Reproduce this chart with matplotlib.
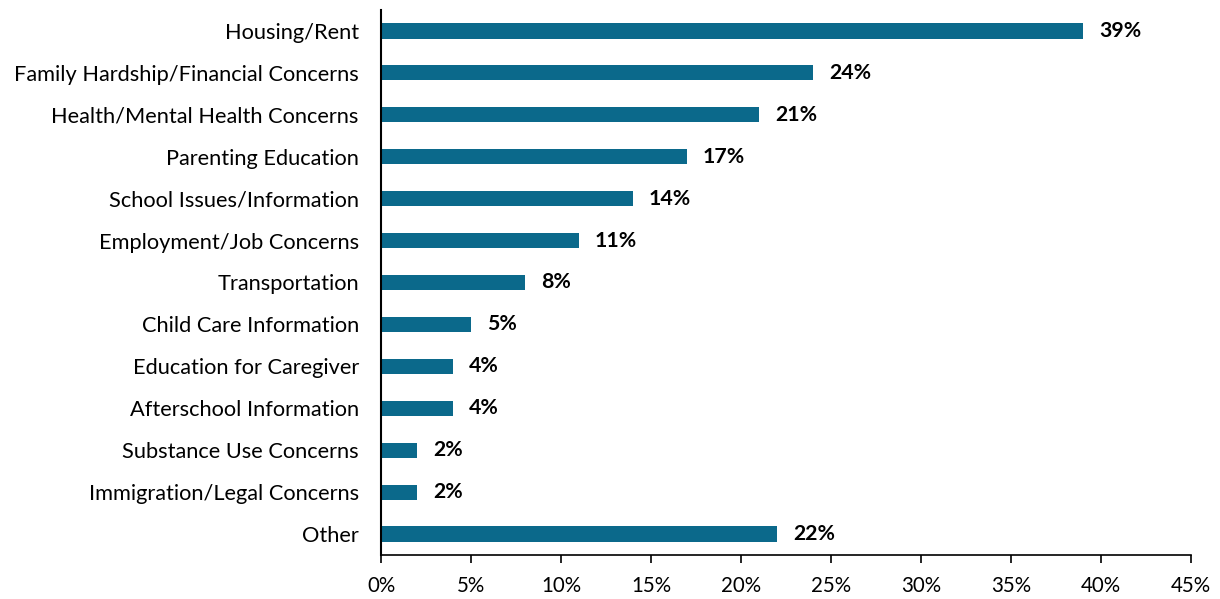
import matplotlib
matplotlib.use("Agg")
import matplotlib.pyplot as plt
from matplotlib.ticker import FuncFormatter

categories = ["Housing/Rent", "Family Hardship/Financial Concerns", "Health/Mental Health Concerns",
              "Parenting Education", "School Issues/Information", "Employment/Job Concerns",
              "Transportation", "Child Care Information", "Education for Caregiver",
              "Afterschool Information", "Substance Use Concerns", "Immigration/Legal Concerns", "Other"]
values = [39, 24, 21, 17, 14, 11, 8, 5, 4, 4, 2, 2, 22]
xticks = [0, 5, 10, 15, 20, 25, 30, 35, 40, 45]

plt.rcParams['font.family'] = ['Lato', 'DejaVu Sans']

fig = plt.figure(figsize=(12.2, 5.99), dpi=100)
ax = fig.add_axes([381/1220, 1-555/599, 810/1220, 545/599])

ypos = list(range(len(categories)))
ax.barh(ypos, values, height=0.36, color="#0B698B")
for y, v in zip(ypos, values):
    ax.annotate(f"{v}%", (v, y), xytext=(16, 0), textcoords="offset pixels",
                va="center", ha="left", fontsize=15.3, fontweight="bold", color="black")

ax.set_ylim(len(categories)-0.5, -0.5)
ax.set_xlim(0, 45)
ax.set_xticks(xticks)
ax.xaxis.set_major_formatter(FuncFormatter(lambda x, p: f"{x:.0f}%"))
ax.set_yticks(ypos)
ax.set_yticklabels(categories)
ax.tick_params(axis='y', length=0, pad=16, labelsize=15.7)
ax.tick_params(axis='x', direction='out', length=6, width=1.2, pad=9, labelsize=14.8)
for s in ["top", "right"]:
    ax.spines[s].set_visible(False)
ax.spines["left"].set_linewidth(1.5)
ax.spines["bottom"].set_linewidth(1.2)

fig.savefig("out.png", dpi=100)
